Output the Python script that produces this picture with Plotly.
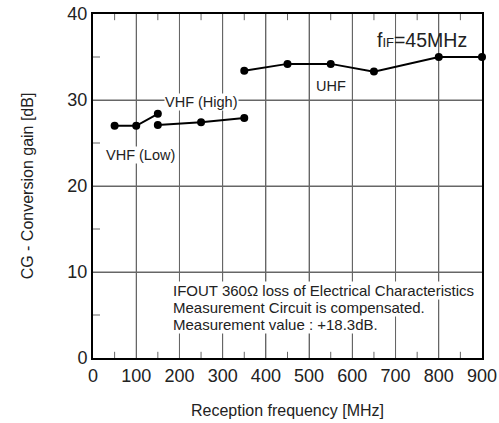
import plotly.graph_objects as go

vhf_low_x = [50, 100, 150]
vhf_low_y = [27.0, 27.0, 28.4]
vhf_high_x = [150, 250, 350]
vhf_high_y = [27.1, 27.4, 27.9]
uhf_x = [350, 450, 550, 650, 800, 900]
uhf_y = [33.4, 34.2, 34.2, 33.3, 35.0, 35.0]

x_ticks = [0, 100, 200, 300, 400, 500, 600, 700, 800, 900]
y_ticks = [0, 10, 20, 30, 40]
x_minor = [50, 150, 250, 350, 450, 550, 650, 750, 850]
y_minor = [5, 15, 25, 35]

note_lines = ["IFOUT 360Ω loss of Electrical Characteristics",
              "Measurement Circuit is compensated.",
              "Measurement value : +18.3dB."]
note_y = [7.9, 5.9, 3.85]

FONT = "Liberation Sans, Arial, sans-serif"
TXT = "#222"
GRID = "#666"
fig = go.Figure()

# grid lines and minor ticks, positioned by the axes' own data scale
for xv in x_ticks[1:-1]:
    fig.add_shape(type="line", xref="x", yref="y domain", x0=xv, x1=xv, y0=0, y1=1,
                  line=dict(color=GRID, width=1), layer="below")
for yv in y_ticks[1:-1]:
    fig.add_shape(type="line", xref="x domain", yref="y", x0=0, x1=1, y0=yv, y1=yv,
                  line=dict(color=GRID, width=1), layer="below")
for xv in x_minor:
    for y0, y1 in [(0, 0.018), (0.982, 1)]:
        fig.add_shape(type="line", xref="x", yref="y domain", x0=xv, x1=xv, y0=y0, y1=y1,
                      line=dict(color=GRID, width=1), layer="below")
for yv in y_minor:
    fig.add_shape(type="line", xref="x domain", yref="y", x0=0, x1=0.018, y0=yv, y1=yv,
                  line=dict(color=GRID, width=1), layer="below")

for xs, ys in [(vhf_low_x, vhf_low_y), (vhf_high_x, vhf_high_y), (uhf_x, uhf_y)]:
    fig.add_trace(go.Scatter(x=xs, y=ys, mode="lines+markers",
                             line=dict(color="black", width=2),
                             marker=dict(color="black", size=8),
                             showlegend=False, cliponaxis=False))

ann = dict(font=dict(family=FONT, size=14.5, color=TXT), showarrow=False)
fig.add_annotation(x=252, y=29.75, text="VHF (High)", bgcolor="white", borderpad=0, **ann)
fig.add_annotation(x=109, y=23.6, text="VHF (Low)", bgcolor="white", borderpad=0, **ann)
fig.add_annotation(x=551, y=31.6, text="UHF", **ann)
fig.add_annotation(x=870, y=37.0, xanchor="right",
                   text="f<span style='font-size:13px'>IF</span>=45MHz",
                   font=dict(family=FONT, size=19.5, color=TXT), showarrow=False)
for t, yy in zip(note_lines, note_y):
    fig.add_annotation(x=183, y=yy, xanchor="left", text=t, bgcolor="white", borderpad=0,
                       font=dict(family=FONT, size=15, color=TXT), showarrow=False)

fig.update_xaxes(range=[0, 900], tickvals=x_ticks, showgrid=True, gridcolor=GRID, gridwidth=1,
                 ticks="", showline=True, linecolor="black",
                 linewidth=2, mirror=True, zeroline=False, automargin=False,
                 tickfont=dict(family=FONT, size=18, color=TXT),
                 title=dict(text="Reception frequency [MHz]", font=dict(family=FONT, size=16, color=TXT), standoff=20))
fig.update_yaxes(range=[0, 40], tickvals=y_ticks, showgrid=True, gridcolor=GRID, gridwidth=1,
                 ticks="", showline=True, linecolor="black",
                 linewidth=2, mirror=True, zeroline=False, automargin=False,
                 tickfont=dict(family=FONT, size=18, color=TXT),
                 title=dict(text="CG - Conversion gain [dB]", font=dict(family=FONT, size=16, color=TXT), standoff=30))
fig.update_layout(width=499, height=423, margin=dict(l=93, r=17, t=14, b=65),
                  plot_bgcolor="white", paper_bgcolor="white")
fig.write_html("out.html", config={"displayModeBar": False},
               post_script="document.body.style.margin='0';")
